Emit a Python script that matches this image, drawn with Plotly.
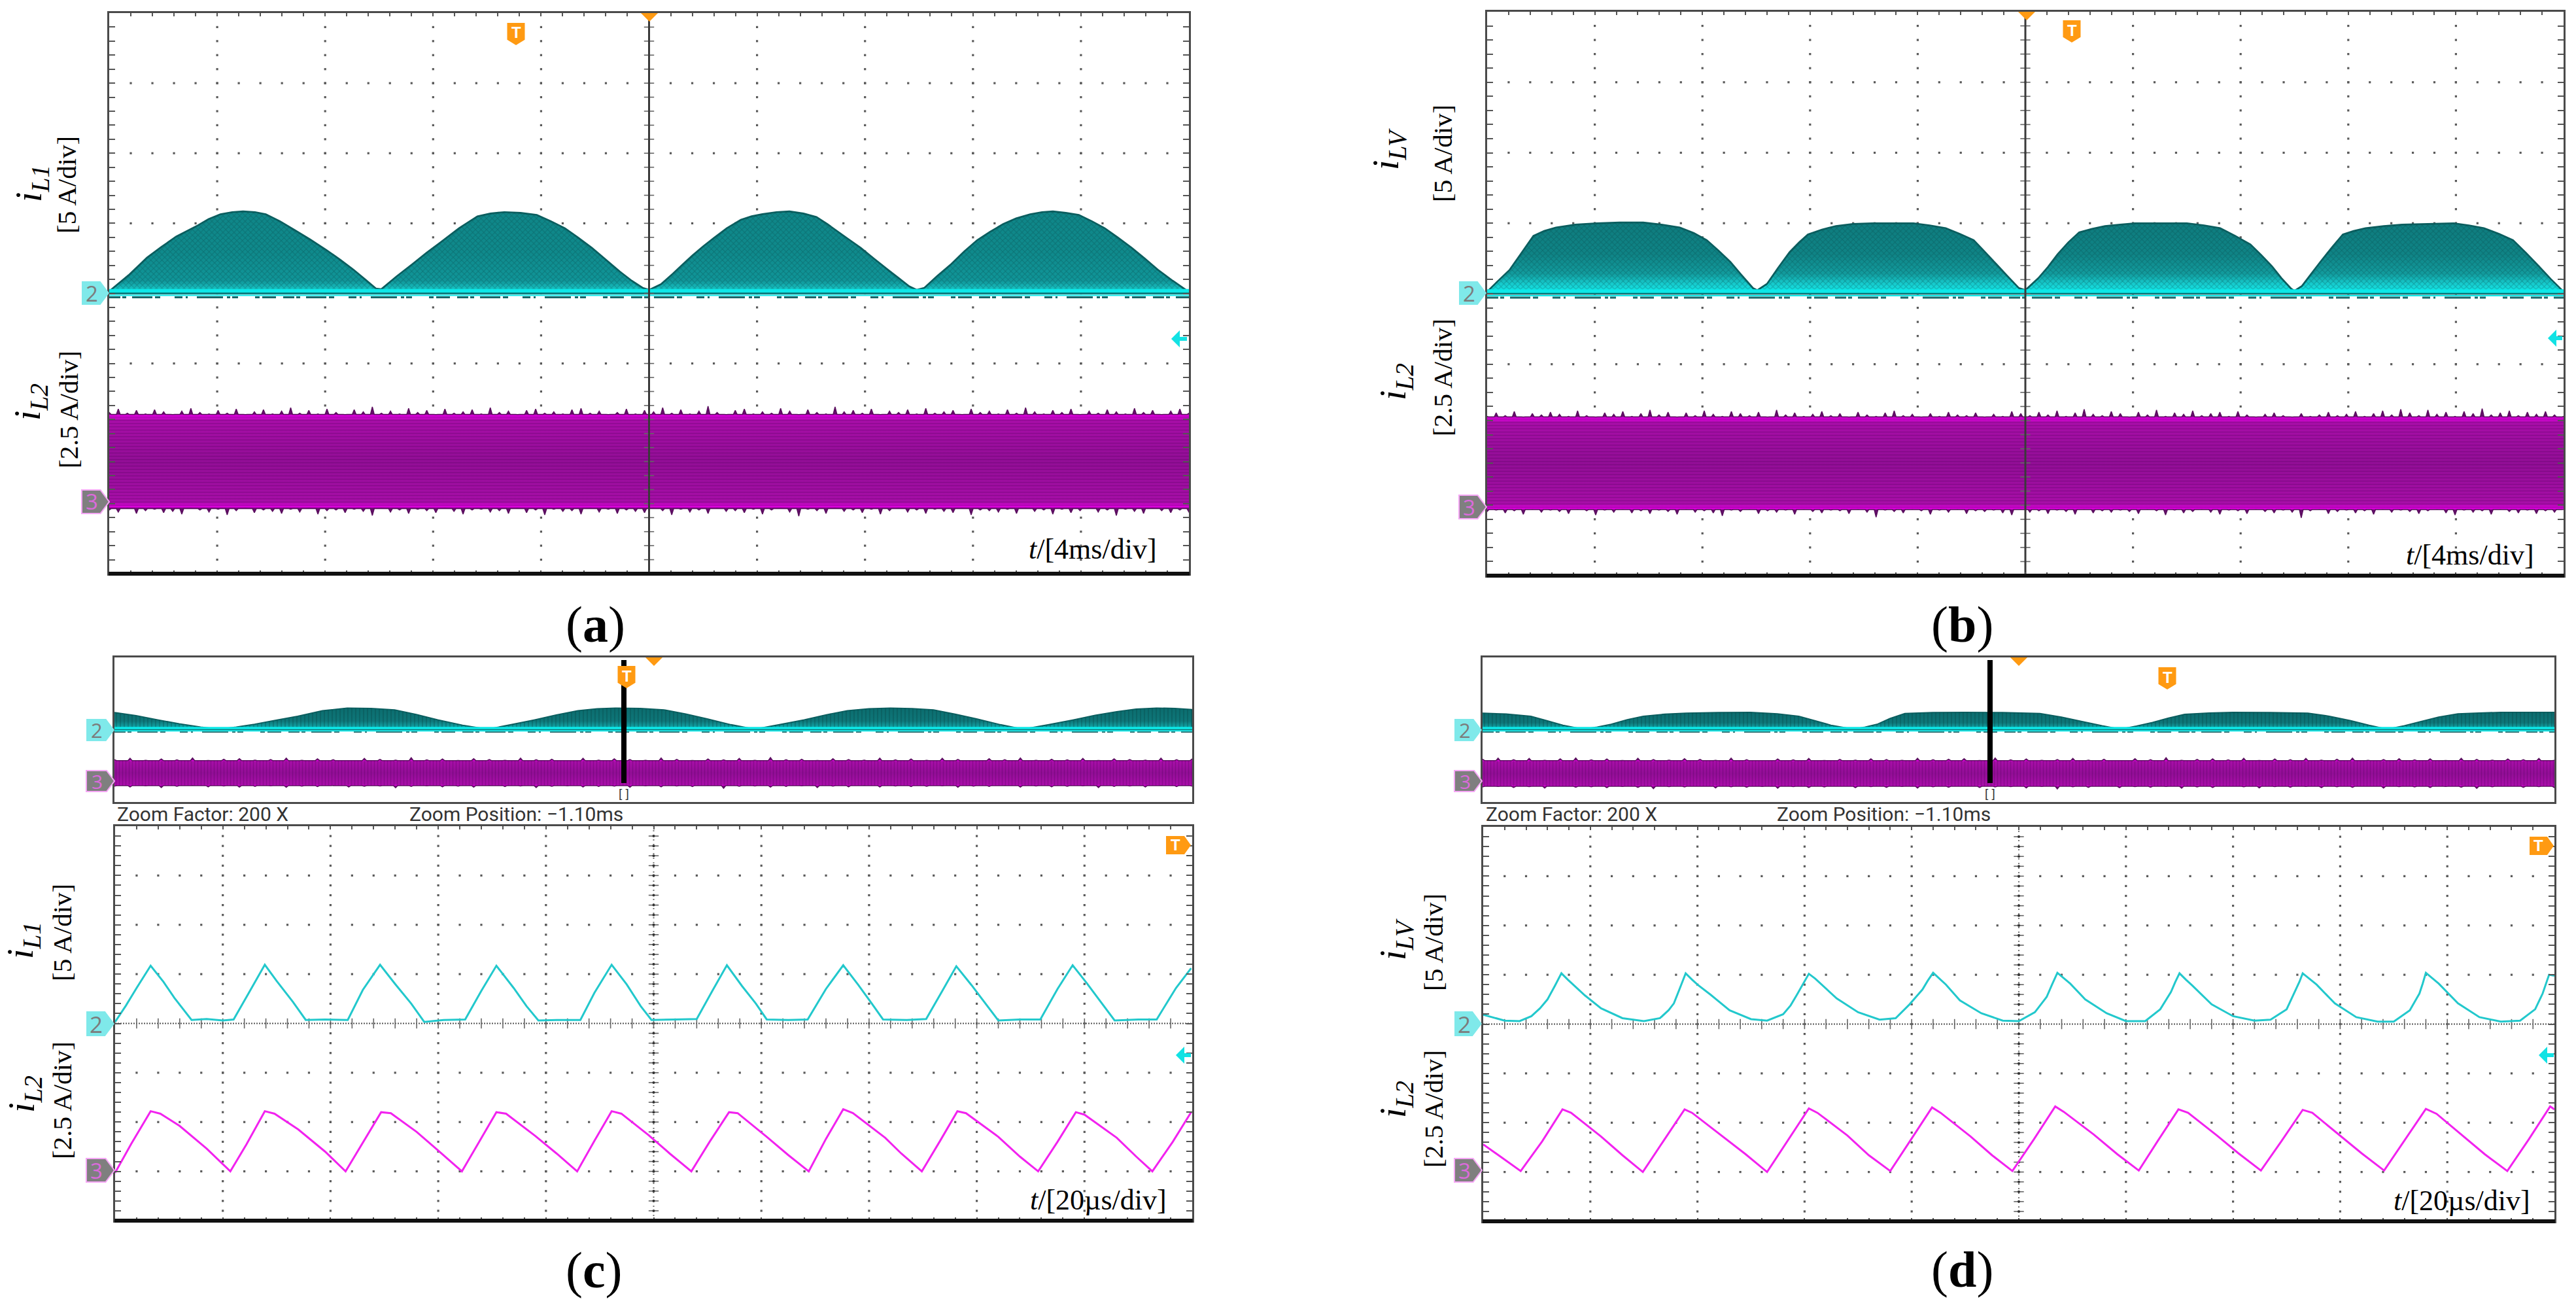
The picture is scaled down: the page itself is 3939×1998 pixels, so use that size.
import numpy as np
import plotly.graph_objects as go

W, H = 3939, 1998

# ---- envelope readings: (time in div, height above channel ground in div)
A_IL1 = [(0,.03),(.18,.26),(.35,.51),(.48,.66),(.62,.81),(.82,.97),(.92,1.06),(1.03,1.13),(1.14,1.16),(1.24,1.17),(1.35,1.16),(1.45,1.13),(1.58,1.03),(1.71,.91),(1.86,.77),(2.01,.62),(2.14,.48),(2.26,.34),(2.37,.2),(2.47,.07),(2.52,.06),
         (2.66,.24),(2.81,.42),(2.94,.58),(3.07,.73),(3.24,.93),(3.41,1.10),(3.53,1.14),(3.66,1.16),(3.81,1.15),(3.96,1.12),(4.09,1.03),(4.22,.93),(4.34,.8),(4.47,.65),(4.6,.48),(4.73,.31),(4.84,.18),(4.94,.08),(5.0,.05),(5.11,.13),(5.22,.28),
         (5.31,.41),(5.40,.54),(5.5,.67),(5.6,.79),(5.72,.93),(5.85,1.05),(5.95,1.1),(6.05,1.13),(6.18,1.16),(6.30,1.17),(6.43,1.14),(6.55,1.09),(6.65,.99),(6.75,.88),(6.85,.77),(6.96,.65),(7.08,.5),(7.21,.34),(7.31,.22),(7.41,.10),(7.48,.05),(7.55,.08),
         (7.67,.25),(7.80,.42),(7.92,.6),(8.04,.76),(8.16,.88),(8.28,.99),(8.4,1.07),(8.53,1.13),(8.64,1.16),(8.74,1.17),(8.86,1.15),(8.98,1.12),(9.1,1.03),(9.22,.93),(9.34,.8),(9.47,.65),(9.59,.5),(9.71,.34),(9.85,.18),(9.99,.03)]
B_ILV = [(0,.03),(.1,.18),(.21,.34),(.32,.58),(.43,.82),(.53,.89),(.64,.94),(.82,.98),(1.02,1.0),(1.23,1.01),(1.45,1.01),(1.62,.98),(1.79,.94),(1.92,.86),(2.04,.76),(2.15,.61),(2.26,.45),(2.36,.27),(2.47,.08),(2.51,.05),(2.60,.14),
         (2.7,.36),(2.81,.59),(2.9,.73),(2.98,.84),(3.11,.91),(3.24,.96),(3.4,.99),(3.58,1.0),(3.77,1.0),(3.96,1.0),(4.11,.97),(4.26,.93),(4.39,.85),(4.52,.76),(4.62,.6),(4.73,.42),(4.84,.24),(4.94,.08),(5.0,.05),(5.12,.22),(5.21,.38),(5.30,.56),
         (5.40,.73),(5.50,.87),(5.62,.92),(5.74,.96),(5.88,.98),(6.02,1.0),(6.26,1.0),(6.50,1.0),(6.66,.97),(6.81,.93),(6.95,.82),(7.09,.70),(7.19,.55),(7.29,.39),(7.38,.22),(7.47,.07),(7.5,.04),(7.57,.11),(7.65,.27),(7.74,.45),(7.85,.66),(7.95,.84),
         (8.05,.89),(8.16,.93),(8.33,.96),(8.50,.98),(8.74,.99),(8.98,1.0),(9.12,.97),(9.26,.93),(9.4,.85),(9.53,.76),(9.65,.58),(9.77,.39),(9.88,.21),(10,.03)]
C_STRIP_IL1 = [(0,.95),(.2,.78),(.4,.55),(.6,.33),(.8,.15),(.97,.03),(1.13,.15),(1.3,.3),(1.5,.53),(1.7,.75),(1.93,1.05),(2.16,1.2),(2.38,1.18),(2.6,1.1),(2.8,.85),(3.0,.55),(3.23,.25),(3.46,.03),(3.68,.28),(3.9,.55),(4.1,.82),(4.3,1.05),
               (4.48,1.16),(4.65,1.2),(4.88,1.18),(5.1,1.1),(5.3,.87),(5.5,.6),(5.72,.28),(5.94,.03),(6.17,.28),(6.4,.55),(6.6,.82),(6.8,1.05),(7.0,1.16),(7.2,1.2),(7.4,1.17),(7.6,1.1),(7.8,.86),(8.0,.6),(8.22,.28),(8.43,.03),(8.67,.28),(8.9,.55),(9.1,.8),(9.3,1.0),(9.48,1.14),(9.67,1.2),(9.84,1.18),(10,1.12)]
D_STRIP_ILV = [(0,.92),(.22,.87),(.45,.75),(.6,.5),(.75,.25),(.94,.03),(1.07,.15),(1.2,.3),(1.35,.56),(1.5,.75),(1.7,.86),(1.9,.92),(2.2,.95),(2.5,.96),(2.75,.88),(2.95,.75),(3.1,.5),(3.25,.25),(3.46,.03),(3.57,.15),(3.68,.3),(3.8,.62),
               (3.94,.9),(4.2,.95),(4.5,.96),(4.85,.95),(5.2,.9),(5.4,.7),(5.6,.45),(5.78,.22),(5.95,.03),(6.1,.2),(6.25,.4),(6.4,.65),(6.55,.85),(6.78,.93),(7.0,.96),(7.35,.95),(7.7,.92),(7.9,.75),(8.1,.5),(8.27,.25),(8.44,.03),(8.6,.22),(8.75,.45),(8.92,.7),(9.1,.88),(9.3,.93),(9.5,.96),(10,.96)]

# ---- zoomed traces
C_IL1 = [(0,.03),(.1,.36),(.2,.72),(.33,1.17),(.45,.84),(.55,.52),(.71,.07),(.85,.09),(1.0,.06),(1.10,.08),(1.2,.46),(1.39,1.19),(1.5,.86),
         (1.65,.44),(1.77,.07),(1.95,.08),(2.16,.07),(2.3,.68),(2.46,1.19),(2.6,.80),(2.75,.40),(2.87,.03),(3.05,.07),(3.25,.08),(3.4,.66),
         (3.54,1.17),(3.7,.72),(3.82,.35),(3.93,.06),(4.1,.07),(4.32,.07),(4.45,.62),(4.61,1.19),(4.75,.79),(4.88,.35),(4.98,.07),(5.2,.08),
         (5.40,.09),(5.55,.68),(5.68,1.18),(5.82,.76),(5.95,.40),(6.05,.08),(6.25,.07),(6.43,.08),(6.6,.70),(6.76,1.18),(6.9,.78),(7.02,.42),
         (7.13,.08),(7.35,.07),(7.53,.09),(7.68,.66),(7.81,1.16),(7.95,.78),(8.1,.34),(8.20,.06),(8.4,.08),(8.59,.08),(8.75,.70),(8.89,1.18),
         (9.02,.82),(9.17,.38),(9.28,.06),(9.5,.08),(9.67,.08),(9.85,.72),(9.99,1.12)]
C_IL2 = [(0,-.03),(.15,.56),(.33,1.22),(.42,1.17),(.6,.92),(.85,.46),(1.07,.0),(1.22,.55),(1.39,1.22),(1.48,1.17),(1.7,.85),(1.95,.40),(2.14,.0),
         (2.3,.58),(2.47,1.20),(2.56,1.18),(2.8,.80),(3.0,.42),(3.22,.0),(3.38,.60),(3.54,1.20),(3.63,1.17),(3.9,.72),(4.1,.36),(4.29,.0),(4.45,.62),
         (4.61,1.22),(4.7,1.17),(4.95,.74),(5.15,.36),(5.35,0),(5.52,.60),(5.70,1.20),(5.78,1.18),(6.05,.70),(6.25,.33),(6.44,0),(6.6,.66),(6.76,1.26),
         (6.85,1.18),(7.15,.68),(7.3,.36),(7.49,0),(7.66,.62),(7.82,1.22),(7.9,1.18),(8.2,.70),(8.4,.30),(8.57,0),(8.75,.60),(8.92,1.20),(9.0,1.15),
         (9.3,.68),(9.48,.30),(9.63,0),(9.82,.60),(9.99,1.20)]
D_ILV = [(0,.19),(.1,.13),(.2,.07),(.34,.06),(.45,.16),(.53,.32),(.6,.5),(.67,.78),(.73,1.03),(.79,.9),(.85,.78),(.95,.58),(1.1,.32),(1.3,.12),(1.5,.06),(1.65,.12),(1.73,.28),(1.78,.42),
         (1.84,.75),(1.89,1.03),(1.95,.9),(2.0,.8),(2.12,.6),(2.3,.28),(2.5,.1),(2.65,.07),(2.8,.2),(2.87,.38),(2.93,.6),(2.99,.84),(3.04,1.02),(3.1,.92),(3.15,.82),(3.3,.52),(3.5,.24),(3.7,.09),(3.85,.12),
         (3.98,.4),(4.1,.7),(4.15,.88),(4.20,1.04),(4.26,.92),(4.32,.8),(4.45,.48),(4.65,.22),(4.85,.07),(5.0,.06),(5.15,.24),(5.26,.55),(5.31,.8),(5.36,1.04),(5.42,.93),(5.48,.82),(5.62,.5),
         (5.82,.22),(6.0,.06),(6.18,.06),(6.32,.3),(6.42,.65),(6.46,.85),(6.50,1.03),(6.56,.9),(6.62,.78),(6.8,.4),(7.0,.16),(7.2,.07),(7.35,.09),(7.5,.3),(7.58,.68),(7.62,.86),(7.65,1.03),
         (7.71,.92),(7.78,.8),(7.95,.42),(8.15,.14),(8.35,.05),(8.5,.05),(8.65,.28),(8.74,.62),(8.77,.82),(8.80,1.04),(8.86,.93),(8.92,.82),(9.1,.42),(9.3,.14),(9.5,.05),(9.68,.07),(9.82,.3),(9.89,.62),(9.95,1.0),(10,.98)]
D_IL2 = [(0,.56),(.18,.28),(.35,.02),(.55,.62),(.74,1.27),(.82,1.2),(1.1,.72),(1.3,.34),(1.49,0),(1.68,.62),(1.88,1.27),(1.95,1.2),(2.25,.7),(2.45,.36),
         (2.65,0),(2.85,.66),(3.04,1.29),(3.12,1.2),(3.4,.74),(3.6,.34),(3.80,.02),(4.0,.68),(4.19,1.31),(4.27,1.2),(4.55,.72),(4.75,.34),(4.94,.02),
         (5.14,.66),(5.34,1.33),(5.42,1.22),(5.7,.76),(5.92,.36),(6.12,.03),(6.3,.64),(6.49,1.27),(6.58,1.2),(6.85,.74),(7.05,.38),(7.26,.03),(7.45,.62),
         (7.65,1.26),(7.74,1.2),(8.0,.74),(8.2,.38),(8.41,.03),(8.6,.64),(8.80,1.28),(8.9,1.18),(9.15,.72),(9.35,.36),(9.56,.02),(9.76,.66),(9.96,1.33),(10,1.27)]

# ---- spiky edges of the i_L2 band: excursion beyond its body, in 1/100 div
A_TOP = [4,9,3,7,2,8,5,1,6,10,4,2,7,3,9,1,5,8,2,6,11,3,7,2,9,4,1,8,5,12,3,6,2,10,4,7,1,9,3,5,8,2,11,4,6,1,7,9,3,5,
         2,8,10,3,6,1,4,9,2,7,5,11,3,8,2,6,13,4,1,7,9,2,5,3,10,6,1,8,4,2,12,5,7,3,9,1,6,4,8,2,10,3,5,7,1,9,4,6,2,8,
         3,11,5,2,7,4,9,1,6,3,8,5,2,10,4,7,1,6,9,3]
A_BOT = [3,6,1,8,4,2,7,5,9,1,3,6,2,10,4,1,7,3,5,8,2,6,1,9,4,3,7,2,5,11,1,6,3,8,2,4,7,1,5,9,3,2,6,4,8,1,7,3,10,2,
         5,4,9,1,6,2,8,3,5,7,1,4,10,2,6,3,8,1,5,4,7,2,9,3,1,6,12,2,4,8,1,5,3,7,2,9,4,1,6,3,8,2,5,7,1,10,3,4,6,2,
         8,1,5,3,9,2,7,4,1,6,3,11,2,5,8,1,4,7,3,6]
B_TOP = [2,7,3,9,1,6,4,8,5,2,10,3,1,7,5,9,2,6,11,4,8,1,7,3,10,5,2,9,6,3,8,1,11,4,7,2,5,9,3,6,1,8,4,2,7,10,3,5,1,6,
         2,8,4,3,7,1,5,2,9,6,3,8,4,10,2,7,12,5,3,9,6,1,8,4,11,2,7,5,10,3,6,8,2,9,4,1,5,7,3,1,6,2,4,8,3,5,9,2,6,10,
         4,12,7,3,11,5,8,2,9,6,13,4,7,10,3,8,5,9,4,2]
B_BOT = [4,2,6,3,8,1,5,2,4,7,1,3,9,2,5,1,6,3,7,2,4,8,1,5,3,6,10,2,4,1,7,3,5,2,8,1,4,6,2,3,7,1,5,12,2,4,6,1,3,8,
         2,5,1,7,3,4,2,6,9,1,5,3,7,2,4,8,1,6,3,5,2,4,7,1,3,9,2,6,4,1,5,8,2,3,7,1,4,6,2,5,13,3,1,7,4,2,6,3,8,1,
         5,2,4,7,3,1,6,9,2,5,3,8,1,4,6,2,7,3,5,1]
C_STRIP_TOP = [6,14,3,10,5,16,2,9,12,4,7,15,3,11,6,1,13,8,4,17,5,10,2,12,7,3,15,6,9,1,14,4,11,7,3,16,8,2,10,5,13,3,18,6,9,2,12,7,4,15,
               5,10,3,14,8,1,12,6,16,3,9,5,13,2,11,7,4,15,6,10]
C_STRIP_BOT = [4,9,2,12,5,1,8,3,10,6,2,11,4,7,1,9,5,3,13,6,2,8,4,10,1,7,3,12,5,2,9,6,4,11,2,8,3,7,1,16,5,3,10,6,2,12,4,8,1,9,
               3,7,5,2,11,4,6,1,10,3,8,5,2,12,6,3,9,1,7,4]
D_STRIP_TOP = [9,15,6,13,3,11,16,5,10,2,14,7,4,12,8,3,15,6,1,10,5,13,2,8,4,11,7,3,14,6,9,12,2,16,5,10,3,7,13,4,9,1,12,6,17,3,8,11,5,14,
               2,10,6,13,4,9,15,3,7,12,5,11,2,14,8,4,10,6,13,3]
D_STRIP_BOT = [5,2,8,3,11,1,6,4,9,2,7,14,3,5,1,10,4,6,2,12,3,8,5,1,9,3,7,2,11,4,6,1,8,5,3,10,2,16,4,7,1,9,3,6,2,12,5,8,1,4,
               10,3,6,2,9,4,7,1,11,3,5,8,2,6,13,4,1,7,3,9]

T_LABELS = ["<i>t</i>/[4ms/div]", "<i>t</i>/[4ms/div]", "<i>t</i>/[20µs/div]", "<i>t</i>/[20µs/div]"]
CHAN_LABELS = ["<i>i<sub>L1</sub></i>", "<i>i<sub>LV</sub></i>", "<i>i<sub>L2</sub></i>"]
SCALE_LABELS = ["[5 A/div]", "[2.5 A/div]"]

SERIF = "Liberation Serif"
ORANGE = "#ff9a12"
CY_LINE, MG_LINE = "#22c8cc", "#f222ef"

PANELS = {
    "a":  dict(L=167, R=1818, T=20, B=877, n=1),
    "b":  dict(L=2274, R=3920, T=18, B=880, n=2),
    "cs": dict(L=175, R=1823, T=1005, B=1226, n=3),
    "c":  dict(L=176, R=1823, T=1263, B=1866, n=4),
    "ds": dict(L=2267, R=3906, T=1005, B=1226, n=5),
    "d":  dict(L=2268, R=3906, T=1264, B=1867, n=6),
}
GND2, GND3 = 4.0, 1.0


def px(x):
    return x / W


def py(y):
    return 1 - y / H


fig = go.Figure()
layout = dict(width=W, height=H, margin=dict(l=0, r=0, t=0, b=0), paper_bgcolor="white", plot_bgcolor="white",
              showlegend=False, hovermode=False)
shapes, notes = [], []

for key, p in PANELS.items():
    strip = key.endswith("s")
    n = "" if p["n"] == 1 else str(p["n"])
    common = dict(showticklabels=False, showgrid=False, zeroline=False, showline=True, mirror="ticks" if not strip else True,
                  linecolor="#4a4a4a", linewidth=3, fixedrange=True,
                  ticks="" if strip else "inside", tickcolor="#555", tickwidth=2, tick0=0, dtick=.2)
    layout["xaxis" + n] = dict(domain=[px(p["L"]), px(p["R"])], range=[0, 10], anchor="y" + n, ticklen=5, **common)
    layout["yaxis" + n] = dict(domain=[py(p["B"]), py(p["T"])], range=[0, 8], anchor="x" + n, ticklen=9, **common)
    p["xa"], p["ya"] = "x" + n, "y" + n


def add(panel, **kw):
    p = PANELS[panel]
    kw.setdefault("hoverinfo", "skip")
    fig.add_trace(go.Scatter(xaxis=p["xa"], yaxis=p["ya"], **kw))


def grid(panel):
    vx = np.array([k for k in range(1, 10) if k != 5])
    vy = np.arange(1, 40) * .2
    X, Y = np.meshgrid(vx, vy)
    hy = np.array([k for k in range(1, 8) if k != 4])
    hx = np.arange(1, 50) * .2
    X2, Y2 = np.meshgrid(hx, hy)
    gx = np.concatenate([X.ravel(), X2.ravel()])
    gy = np.concatenate([Y.ravel(), Y2.ravel()])
    add(panel, x=gx, y=gy, mode="markers", marker=dict(symbol="square", size=3.2, color="#5a5a5a", line=dict(width=0)))


def centre(panel, solid):
    ys = np.arange(1, 40) * .2
    xs = np.arange(1, 50) * .2
    add(panel, x=np.full(ys.shape, 5.0), y=ys, mode="markers",
        marker=dict(symbol="line-ew", size=11, line=dict(width=1.6, color="#666")))
    if solid:
        add(panel, x=[5, 5], y=[0, 8], mode="lines", line=dict(color="#3a3a3a", width=3))
    else:
        add(panel, x=[5, 5], y=[0, 8], mode="lines", line=dict(color="#777", width=2, dash="2px,5px"))
        add(panel, x=np.full(ys.shape, 5.0), y=ys, mode="markers", marker=dict(symbol="circle", size=4, color="#333"))
        add(panel, x=[0, 10], y=[GND2, GND2], mode="lines", line=dict(color="#555", width=2, dash="2px,2px"))
        add(panel, x=xs, y=np.full(xs.shape, GND2), mode="markers",
            marker=dict(symbol="line-ns", size=11, line=dict(width=1.6, color="#666")))


def envelope(panel, pts, grad, peak_line="#0b5f60", thin=1.0):
    t = [q[0] for q in pts]
    h = [GND2 + q[1] for q in pts]
    x = t + [t[-1], t[0]]
    y = h + [GND2, GND2]
    add(panel, x=x, y=y, mode="lines", fill="toself", line=dict(color=peak_line, width=2.2 * thin + .5, simplify=False),
        fillgradient=dict(type="vertical", colorscale=[[1 - a, c] for a, c in reversed(grad)]))
    add(panel, x=x, y=y, mode="lines", fill="toself", line=dict(width=0), fillcolor="rgba(0,0,0,0)",
        fillpattern=dict(shape="x" if thin == 1 else "|", size=6, solidity=.3, fgcolor="rgba(4,60,62,.6)", bgcolor="rgba(0,0,0,0)"))
    # bright baseline with its dark core and specks
    s = PANELS[panel]
    u = 8 / (s["B"] - s["T"])
    add(panel, x=[0, 10], y=[GND2 + 3 * u * thin] * 2, mode="lines", line=dict(color="#0ce8e8", width=7 * thin + .5))
    add(panel, x=[0, 10], y=[GND2] * 2, mode="lines", line=dict(color="#0c7476", width=2.5 * thin))
    add(panel, x=[0, 10], y=[GND2 - 3 * u * thin] * 2, mode="lines", line=dict(color="#0ce8e8", width=2))
    add(panel, x=[0, 10], y=[GND2 - 6 * u * thin] * 2, mode="lines",
        line=dict(color="#1a6668", width=2.8 * thin,
                  dash="17px,3px,6px,9px,31px,4px,8px,22px,12px,5px,3px,14px,40px,6px,5px,3px,9px,26px,7px,4px,21px,11px"))


def spiked(values, base, sign, half_width):
    """Narrow spikes of the typed excursions on the flat edge of the band."""
    xs, ys = [], []
    pos = np.linspace(0, 10, len(values))
    for a, v in zip(pos, values):
        xs += [a - half_width, a, a + half_width]
        ys += [base + sign * .012, base + sign * v / 100, base + sign * .012]
    return xs, ys


def band(panel, top, bot, y_top, y_bot, shape="-", half_width=.018):
    tx, ty = spiked(top, y_top, 1, half_width)
    bx, by = spiked(bot, y_bot, -1, half_width)
    x = tx + bx[::-1]
    y = ty + by[::-1]
    scale = [[0, "#5c0f60"], [.07, "#6a0f70"], [.085, "#e000e0"], [.13, "#a80ea8"], [.5, "#920e96"],
             [.87, "#a80ea8"], [.915, "#e400e4"], [.93, "#6a0f70"], [1, "#5c0f60"]]
    add(panel, x=x, y=y, mode="lines", fill="toself", line=dict(color="#5c0f60", width=1.5, simplify=False),
        fillgradient=dict(type="vertical", colorscale=scale))
    add(panel, x=x, y=y, mode="lines", fill="toself", line=dict(width=0, simplify=False), fillcolor="rgba(0,0,0,0)",
        fillpattern=dict(shape=shape, size=5, solidity=.3, fgcolor="rgba(60,0,70,.5)", bgcolor="rgba(0,0,0,0)"))


def poly(points, fill, line=None, lw=0):
    d = "M " + " L ".join(f"{px(a):.5f},{py(b):.5f}" for a, b in points) + " Z"
    shapes.append(dict(type="path", xref="paper", yref="paper", path=d, fillcolor=fill, layer="above",
                       line=dict(width=lw, color=line or fill)))


def note(x, y, text, size, color="black", family=SERIF, angle=0, xanchor="center"):
    notes.append(dict(x=px(x), y=py(y), xref="paper", yref="paper", text=text, showarrow=False, textangle=angle,
                      font=dict(size=size, color=color, family=family), xanchor=xanchor, yanchor="middle"))


def chan_tag(x1, x2, yc, half, num):
    tip = x2 - half * .75
    pts = [(x1, yc - half), (tip, yc - half), (x2, yc), (tip, yc + half), (x1, yc + half)]
    size = round(half * 1.85)
    if num == 2:
        poly(pts, "#7fe9ea")
        note((x1 + tip) / 2 + 1, yc, "2", size, "#7c7c7c", "Open Sans")
    else:
        poly(pts, "#7f7f7f", "#f5a6f5", 2)
        note((x1 + tip) / 2 + 1, yc, "3", size, "#dc6adc", "Open Sans")


def shield(cx, cy):
    w, h = 27, 34
    poly([(cx - w / 2, cy - h / 2), (cx + w / 2, cy - h / 2), (cx + w / 2, cy + h * .26), (cx, cy + h / 2), (cx - w / 2, cy + h * .26)], ORANGE)
    note(cx, cy - 2, "<b>T</b>", 24, "white", "Liberation Sans")


def side_t(x1, x2, cy):
    poly([(x1, cy - 14), (x2 - 10, cy - 14), (x2, cy), (x2 - 10, cy + 14), (x1, cy + 14)], ORANGE)
    note((x1 + x2 - 10) / 2, cy - 1, "<b>T</b>", 24, "white", "Liberation Sans")


def trig(x, y):
    poly([(x - 13, y), (x + 13, y), (x, y + 13)], ORANGE)


def back(x1, x2, y):
    poly([(x1, y), (x1 + 13, y - 13), (x1 + 13, y - 3), (x2, y - 3), (x2, y + 3), (x1 + 13, y + 3), (x1 + 13, y + 13)], "#12e2e4")


# gradients listed from the envelope's top down to its ground
TEAL = [[0, "#0f8688"], [.5, "#0f8a8c"], [.85, "#109699"], [.96, "#18caca"], [1, "#1adada"]]
TEAL_B = [[0, "#0e7c7e"], [.45, "#0f8486"], [.72, "#129c9e"], [.88, "#16d2d4"], [1, "#12eaea"]]
TEAL_S = [[0, "#0b6c6e"], [.6, "#0e7678"], [.85, "#10a0a2"], [1, "#14dcdc"]]

# --- panels (a), (b)
for key, env, grad, top, bot, yt, yb in (
    ("a", A_IL1, TEAL, A_TOP, A_BOT, 2.26, .94),
    ("b", B_ILV, TEAL_B, B_TOP, B_BOT, 2.24, .95),
):
    grid(key)
    envelope(key, env, grad)
    band(key, top, bot, yt, yb)
    centre(key, True)

# --- compressed strips of (c), (d)
envelope("cs", C_STRIP_IL1, TEAL_S, thin=.6)
band("cs", C_STRIP_TOP, C_STRIP_BOT, 2.28, .92, "|", .02)
envelope("ds", D_STRIP_ILV, TEAL_S, thin=.6)
band("ds", D_STRIP_TOP, D_STRIP_BOT, 2.28, .88, "|", .02)

# --- zoomed panels
for key, l1, l2 in (("c", C_IL1, C_IL2), ("d", D_ILV, D_IL2)):
    grid(key)
    centre(key, False)
    add(key, x=[q[0] for q in l1], y=[GND2 + q[1] for q in l1], mode="lines", line=dict(color=CY_LINE, width=3))
    add(key, x=[q[0] for q in l2], y=[GND3 + q[1] for q in l2], mode="lines", line=dict(color=MG_LINE, width=3))

# heavy bottom rule
for key in ("a", "b", "c", "d"):
    p = PANELS[key]
    shapes.append(dict(type="line", xref="paper", yref="paper", x0=px(p["L"] - 1), x1=px(p["R"] + 1), y0=py(p["B"]), y1=py(p["B"]),
                       line=dict(color="#111", width=6), layer="above"))

# zoom window bar
for x in (954, 3043):
    shapes.append(dict(type="line", xref="paper", yref="paper", x0=px(x), x1=px(x), y0=py(1009), y1=py(1197),
                       line=dict(color="black", width=8), layer="above"))
    note(x, 1212, "[ ]", 19, "#333", "Liberation Sans")

# channel tags
for x1, x2, y2, y3, half in ((125, 167, 448, 767, 18), (2231, 2273, 448, 775, 18)):
    chan_tag(x1, x2, y2, half, 2)
    chan_tag(x1, x2, y3, half, 3)
for x1, x2 in ((132, 175), (2224, 2266)):
    chan_tag(x1, x2, 1565, 19, 2)
    chan_tag(x1, x2, 1789, 18, 3)
    chan_tag(x1, x2, 1116, 17, 2)
    chan_tag(x1, x2, 1194, 16, 3)

# trigger marks
shield(789, 52)
shield(3168, 48)
shield(958, 1035)
shield(3314, 1037)
side_t(1783, 1821, 1292)
side_t(3868, 3905, 1293)
trig(993, 20)
trig(3099, 18)
trig(1000, 1005)
trig(3087, 1005)
back(1791, 1815, 518)
back(3896, 3918, 517)
back(1798, 1821, 1613)
back(3882, 3905, 1613)

# rotated channel labels
LAB = 56
SCL = 41
for x, y, text, size in (
    (48, 281, CHAN_LABELS[0], LAB), (102, 283, SCALE_LABELS[0], SCL), (46, 615, CHAN_LABELS[2], LAB), (105, 626, SCALE_LABELS[1], SCL),
    (2123, 228, CHAN_LABELS[1], LAB), (2206, 235, SCALE_LABELS[0], SCL), (2134, 584, CHAN_LABELS[2], LAB), (2206, 577, SCALE_LABELS[1], SCL),
    (35, 1438, CHAN_LABELS[0], LAB), (95, 1426, SCALE_LABELS[0], SCL), (37, 1673, CHAN_LABELS[2], LAB), (95, 1682, SCALE_LABELS[1], SCL),
    (2134, 1436, CHAN_LABELS[1], LAB), (2192, 1441, SCALE_LABELS[0], SCL), (2134, 1681, CHAN_LABELS[2], LAB), (2192, 1695, SCALE_LABELS[1], SCL),
):
    note(x, y, text, size, angle=-90)

# time base labels
for x, y, text in ((1671, 839, T_LABELS[0]), (3777, 848, T_LABELS[1]), (1679, 1834, T_LABELS[2]), (3764, 1835, T_LABELS[3])):
    note(x, y, text, 44)

# sub-figure labels
for x, y, text in ((910, 954, "(<b>a</b>)"), (3000, 954, "(<b>b</b>)"), (908, 1941, "(<b>c</b>)"), (3000, 1940, "(<b>d</b>)")):
    note(x, y, text, 78)

# zoom read-outs
for x1, x2 in ((177, 624), (2270, 2715)):
    note(x1, 1244, "Zoom Factor: 200 X", 30, "#333", "Roboto", xanchor="left")
    note(x2, 1244, "Zoom Position: −1.10ms", 30, "#333", "Roboto", xanchor="left")

layout["shapes"] = shapes
layout["annotations"] = notes
fig.update_layout(**layout)
fig.write_html("out.html", config=dict(displayModeBar=False), post_script="document.body.style.margin='0';")
